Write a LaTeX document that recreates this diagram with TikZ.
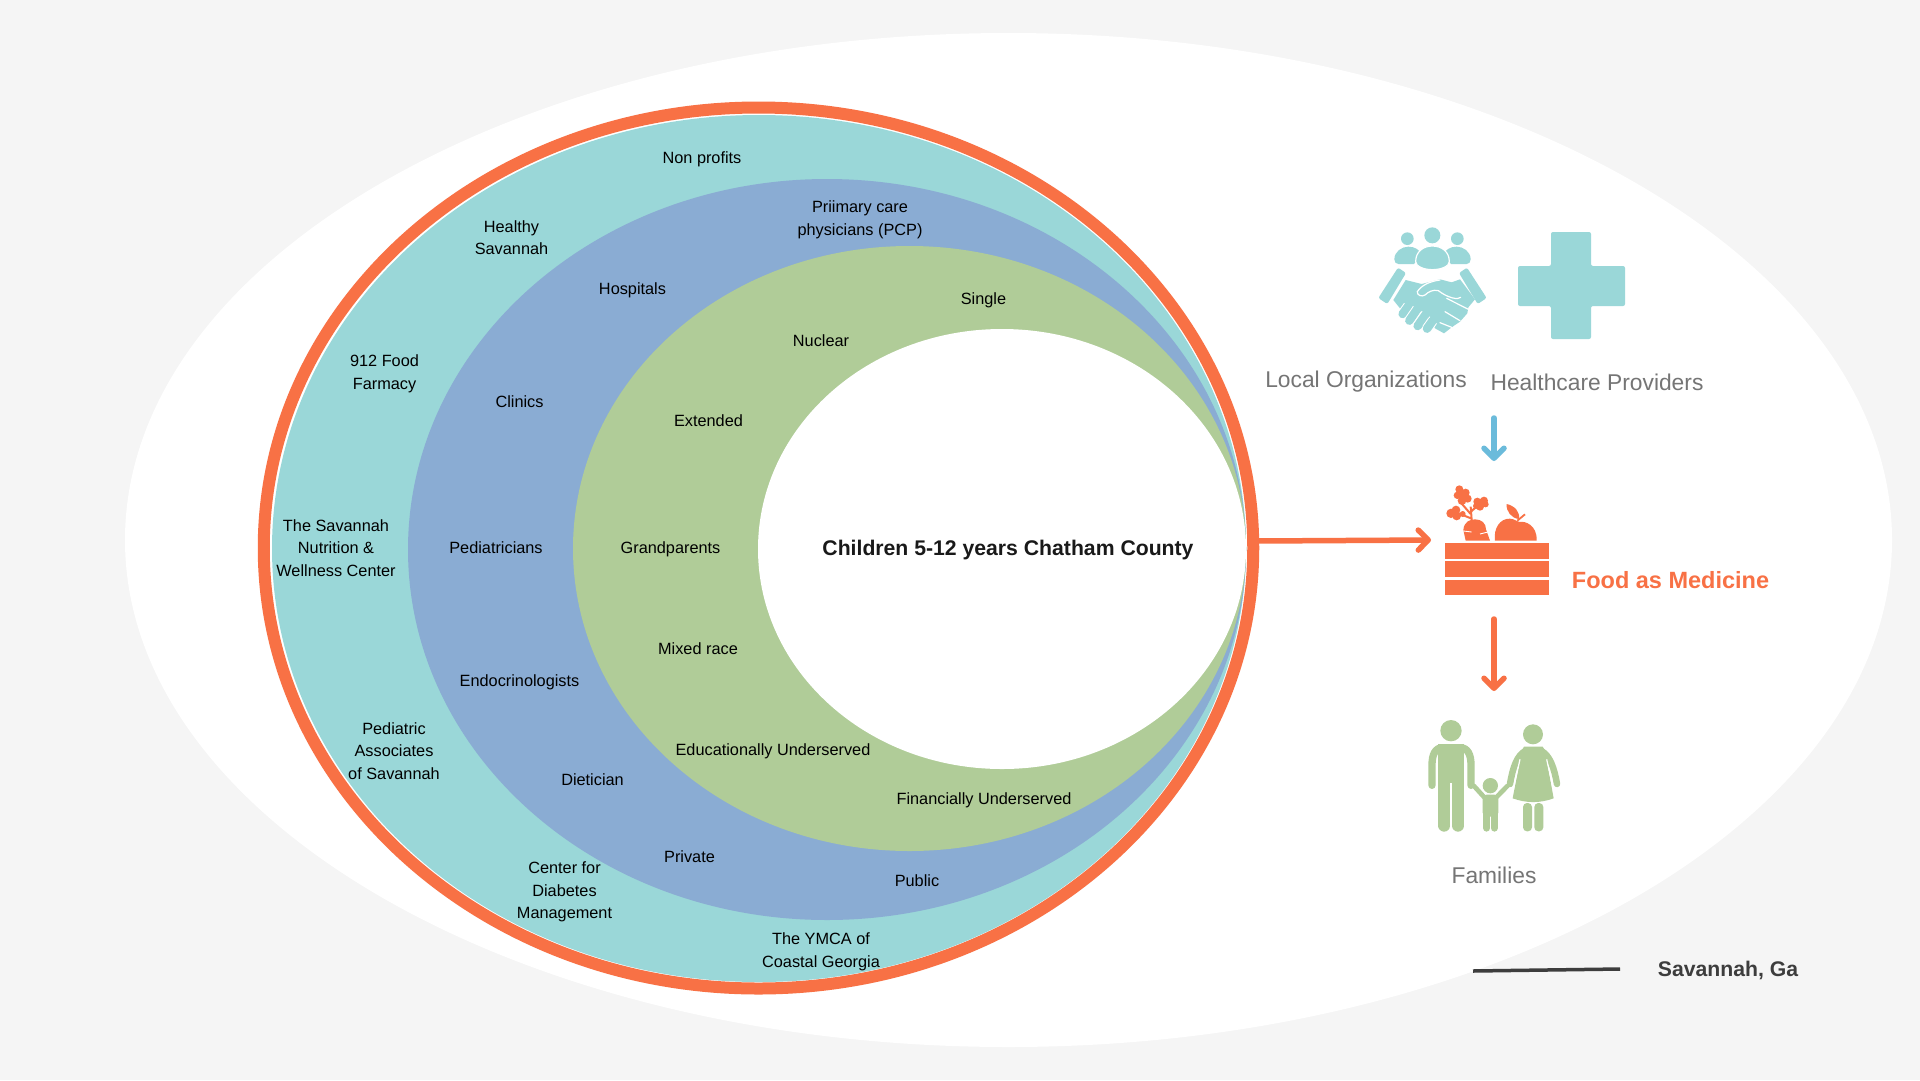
\documentclass[tikz,border=0pt]{standalone}
\usepackage{fontspec}
\setmainfont{Liberation Sans}
\usepackage{xcolor}
\usetikzlibrary{arrows.meta,shapes.geometric}
\definecolor{bgGrey}{HTML}{F5F5F5}
\definecolor{ringOrange}{HTML}{F87145}
\definecolor{outerTeal}{HTML}{9AD7D8}
\definecolor{midBlue}{HTML}{8AACD3}
\definecolor{innerGreen}{HTML}{B0CC98}
\definecolor{arrowBlue}{HTML}{6BBBDB}
\definecolor{captionGrey}{HTML}{757575}
\definecolor{lineDark}{HTML}{3D3D3D}

\begin{document}
\begin{tikzpicture}[x=1pt,y=-1pt,>={Straight Barb[round,length=10pt,width=20pt]},
  oval/.style={ellipse,inner sep=0pt,outer sep=0pt},
  lab/.style={align=center,inner sep=0pt,text=black,font=\fontsize{16.3}{22.6}\selectfont},
  captxt/.style={inner sep=0pt,text=captionGrey,font=\fontsize{22.8}{26}\selectfont},
  flow/.style={->,line width=5.5pt,line cap=round}]
  \useasboundingbox (0,0) rectangle (1920,1080);
  \fill[bgGrey] (0,0) rectangle (1920,1080);
  \node[oval,fill=white,minimum width=1767pt,minimum height=1014pt] (sheet) at (1008.5,540) {};

  % nested ovals
  \node[oval,fill=white,draw=ringOrange,line width=12pt,minimum width=989.5pt,minimum height=881pt] (ring) at (758.5,548) {};
  \node[oval,fill=outerTeal,minimum width=974pt,minimum height=867pt] (teal) at (759,548.5) {};
  \node[oval,fill=midBlue,minimum width=838pt,minimum height=741pt] (blue) at (827,549.5) {};
  \node[oval,fill=innerGreen,minimum width=673pt,minimum height=605pt] (green) at (909.5,548.5) {};
  \node[oval,fill=white,minimum width=488pt,minimum height=440pt] (core) at (1002,549) {};

  \node[font=\fontsize{21.2}{26}\selectfont\bfseries,inner sep=0pt,text=black!90] (title) at (1008,550) {Children 5-12 years Chatham County};

  % outer ring labels
  \node[lab] (nonprofit) at (702,159.5) {Non profits};
  \node[lab] (healthy) at (511.5,237.5) {Healthy\\Savannah};
  \node[lab] (farmacy) at (384.5,374) {912 Food\\Farmacy};
  \node[lab] (wellness) at (336,548) {The Savannah\\Nutrition \&\\Wellness Center};
  \node[lab] (assoc) at (394,751) {Pediatric\\Associates\\of Savannah};
  \node[lab] (diabetes) at (564.5,892) {Center for\\Diabetes\\Management};
  \node[lab] (ymca) at (821,952) {The YMCA of\\Coastal Georgia};
  % middle ring labels
  \node[lab] (pcp) at (860,219.5) {Priimary care\\physicians (PCP)};
  \node[lab] (hospitals) at (632.5,290) {Hospitals};
  \node[lab] (clinics) at (519.5,402) {Clinics};
  \node[lab] (pediatric) at (496,548) {Pediatricians};
  \node[lab] (endo) at (519.5,682) {Endocrinologists};
  \node[lab] (dietician) at (592.5,780) {Dietician};
  \node[lab] (private) at (689.5,857) {Private};
  \node[lab] (public) at (917,881) {Public};
  % inner ring labels
  \node[lab] (single) at (983.5,300) {Single};
  \node[lab] (nuclear) at (821,341) {Nuclear};
  \node[lab] (extended) at (708.5,421) {Extended};
  \node[lab] (grand) at (670.5,549) {Grandparents};
  \node[lab] (mixed) at (698,649) {Mixed race};
  \node[lab] (edu) at (773,751) {Educationally Underserved};
  \node[lab] (fin) at (984,800) {Financially Underserved};

  % right column captions
  \node[captxt] (local) at (1366,382) {Local Organizations};
  \node[captxt] (care) at (1597,382) {Healthcare Providers};
  \node[captxt] (families) at (1494,875) {Families};
  \node[inner sep=0pt,text=ringOrange,font=\fontsize{23.5}{28}\selectfont\bfseries] (food) at (1670.5,580) {Food as Medicine};
  \node[inner sep=0pt,text=lineDark,font=\fontsize{21.2}{26}\selectfont\bfseries] (place) at (1728,970) {Savannah, Ga};

  % connector ends
  \coordinate (ringout) at (1257,541);
  \coordinate (bluetop) at (1494,418);
  \coordinate (cratein) at (1431,540);
  \coordinate (cratetop) at (1494,461);
  \coordinate (cratelow) at (1494,619);
  \coordinate (familytop) at (1494,691);
  \coordinate (lineleft) at (1473,971);
  \coordinate (lineright) at (1620,969);

  \draw[flow,ringOrange] (ringout) -- (cratein);
  \draw[flow,arrowBlue] (bluetop) -- (cratetop);
  \draw[flow,ringOrange] (cratelow) -- (familytop);
  \draw[lineDark,line width=3.5pt] (lineleft) -- (lineright);

  % healthcare cross
  \fill[outerTeal,rounded corners=2pt] (1551,232) -- (1591,232) -- (1591,266) -- (1625,266) -- (1625,306) -- (1591,306) -- (1591,339) -- (1551,339) -- (1551,306) -- (1518,306) -- (1518,266) -- (1551,266) -- cycle;

  % handshake icon
  \begin{scope}[shift={(1340,200)},x=.3333pt,y=-.3333pt,outerTeal]
    \fill (277,106) circle (24);
    \fill (202,116) circle (19);
    \fill (352,116) circle (19);
    \fill (163,178) .. controls (163,155) and (185,140) .. (205,140) .. controls (225,140) and (240,150) .. (245,165) -- (222,192) -- (175,192) .. controls (168,192) and (163,186) .. (163,178) -- cycle;
    \fill (392,178) .. controls (392,155) and (370,140) .. (350,140) .. controls (330,140) and (315,150) .. (310,165) -- (333,192) -- (380,192) .. controls (387,192) and (392,186) .. (392,178) -- cycle;
    \fill[draw=white,line width=1.2pt] (227,185) .. controls (227,155) and (250,138) .. (277,138) .. controls (305,138) and (328,155) .. (328,185) .. controls (328,198) and (305,209) .. (277,209) .. controls (250,209) and (227,198) .. (227,185) -- cycle;
    \fill[rounded corners=2pt] (174,203) -- (198,219) -- (142,312) -- (115,294) -- cycle;
    \fill[rounded corners=2pt] (381,203) -- (357,219) -- (413,312) -- (440,294) -- cycle;
    \fill (197,240) -- (245,252) -- (300,238) -- (335,247) -- (360,238) -- (405,298) -- (385,322) -- (382,340) -- (360,365) -- (335,382) -- (312,400) -- (285,385) -- (270,360) -- (215,318) -- (180,325) -- (160,300) -- cycle;
    \draw[white,line width=1.2pt,line cap=round] (300,240) .. controls (270,244) and (245,255) .. (232,275) .. controls (230,285) and (245,292) .. (255,285) .. controls (265,275) and (280,268) .. (295,272) .. controls (325,295) and (355,300) .. (362,292);
    \draw[white,line width=1.2pt,line cap=round] (320,295) -- (385,328);
    \draw[white,line width=1.2pt,line cap=round] (315,335) -- (360,362);
    \draw[white,line width=1.2pt,line cap=round] (300,368) -- (335,382);
    \foreach \fx/\fy/\gx/\gy in {188/342/205/318, 208/362/232/327, 233/378/258/342, 261/386/278/362}
      \draw[outerTeal,line width=8.5pt,line cap=round,preaction={draw=white,line width=10.5pt}] (\fx,\fy) -- (\gx,\gy);
  \end{scope}

  % crate icon
  \begin{scope}[shift={(1400,470)},x=.3333pt,y=-.3333pt,ringOrange]
    \fill (135,219) rectangle (448,266);
    \fill (135,274) rectangle (448,321);
    \fill (135,329) rectangle (448,375);
    \fill (197,212) -- (190,180) .. controls (192,155) and (210,148) .. (225,148) .. controls (245,148) and (258,160) .. (258,178) -- (270,212) -- cycle;
    \draw[white,line width=.9pt] (190,183) -- (215,186);
    \draw[white,line width=.9pt] (240,192) -- (264,186);
    \fill (285,212) .. controls (280,175) and (300,145) .. (330,146) .. controls (345,147) and (350,155) .. (358,156) .. controls (375,152) and (412,165) .. (410,212) -- cycle;
    \fill (320,102) .. controls (345,108) and (360,125) .. (357,147) .. controls (335,145) and (318,125) .. (320,102) -- cycle;
    \draw[line width=1.8pt] (352,152) -- (375,133);
    \draw[line width=2pt] (215,150) -- (212,110);
    \draw[line width=2pt] (212,132) -- (180,95);
    \draw[line width=2pt] (213,145) -- (170,128);
    \draw[line width=2pt] (213,125) -- (240,100);
    \foreach \lx/\ly/\lr in {178/58/12, 197/68/12, 172/76/11, 203/86/12, 186/92/13, 187/74/16,
      153/130/14, 168/120/13, 170/138/13, 188/132/9,
      232/95/12, 252/92/12, 257/103/9, 240/110/12, 228/108/9, 243/98/12}
      \fill (\lx,\ly) circle (\lr);
  \end{scope}

  % family icon
  \begin{scope}[shift={(1400,700)},x=.3333pt,y=-.3333pt,innerGreen]
    \fill (153,92) circle (32);
    \draw[line width=7.3pt,line cap=round] (96,256) -- (96,195) .. controls (96,165) and (105,143) .. (128,143);
    \draw[line width=7.3pt,line cap=round] (213,256) -- (213,195) .. controls (213,165) and (204,143) .. (180,143);
    \fill (115,133) -- (192,133) -- (192,250) -- (115,250) -- cycle;
    \draw[white,line width=1.2pt] (113,170) -- (113,262);
    \draw[white,line width=1.2pt] (195,170) -- (195,262);
    \draw[line width=12pt,line cap=round] (133,245) -- (133,377);
    \draw[line width=12pt,line cap=round] (174,245) -- (174,377);

    \fill (271,257) circle (23);
    \draw[line width=4.7pt,line cap=round] (222,258) -- (252,291);
    \draw[line width=4.7pt,line cap=round] (322,258) -- (290,291);
    \fill[rounded corners=4pt] (248,284) -- (295,284) -- (295,350) -- (248,350) -- cycle;
    \draw[line width=7.3pt,line cap=round] (260,340) -- (260,384);
    \draw[line width=7.3pt,line cap=round] (283,340) -- (283,384);

    \fill (399,103) circle (30);
    \draw[line width=6.5pt,line cap=round] (330,252) .. controls (338,205) and (350,165) .. (378,152);
    \draw[line width=6.5pt,line cap=round] (471,252) .. controls (463,205) and (450,165) .. (422,152);
    \fill (372,140) -- (428,140) .. controls (438,150) and (442,180) .. (442,190) -- (461,295) .. controls (420,310) and (380,310) .. (338,295) -- (358,190) .. controls (358,180) and (362,150) .. (372,140) -- cycle;
    \draw[white,line width=1.2pt] (360,178) -- (340,268);
    \draw[white,line width=1.2pt] (440,178) -- (460,268);
    \fill[rounded corners=4pt] (369,309) -- (396,309) -- (396,394) -- (369,394) -- cycle;
    \fill[rounded corners=4pt] (403,309) -- (430,309) -- (430,394) -- (403,394) -- cycle;
  \end{scope}
\end{tikzpicture}
\end{document}
